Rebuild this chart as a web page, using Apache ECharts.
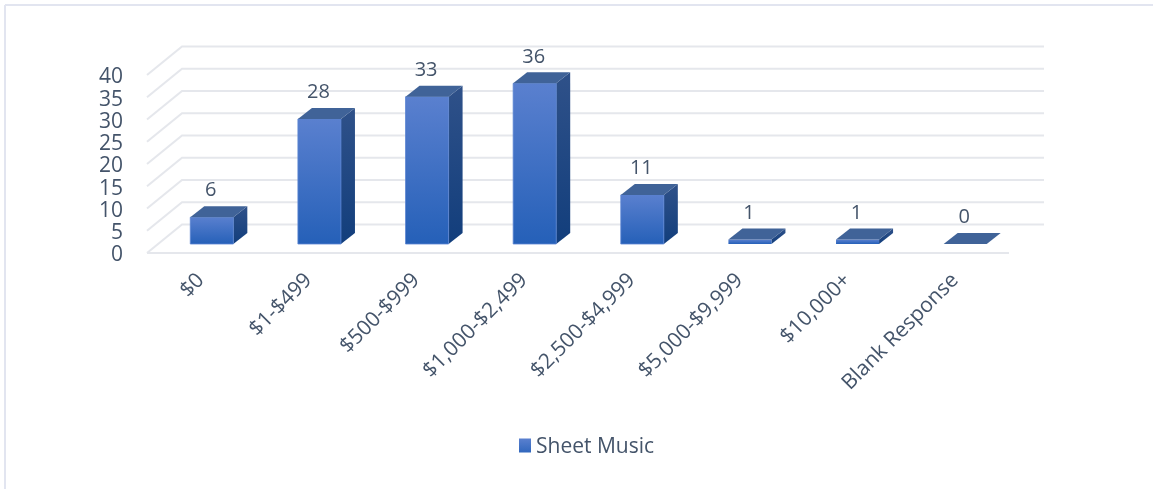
<!DOCTYPE html>
<html>
<head>
<meta charset="utf-8">
<style>html,body{margin:0;padding:0;background:#fff}#c{width:1153px;height:489px;filter:blur(0.4px)}</style>
<script src="https://cdn.jsdelivr.net/npm/echarts@6/dist/echarts.min.js"></script>
</head>
<body>
<div id="c"></div>
<script>
const categories = ["$0","$1-$499","$500-$999","$1,000-$2,499","$2,500-$4,999","$5,000-$9,999","$10,000+","Blank Response"];
const seriesName = "Sheet Music";
const values = [6,28,33,36,11,1,1,0];
const yTicks = [0,5,10,15,20,25,30,35,40];

const TEXT = '#44546a', GRIDC = '#e5e7ec', FONT = '"Open Sans", sans-serif';
const DEPTH_X = 14, DEPTH_Y = -11, BACK_X = 35, BACK_Y = -28.5;
const grad = (a, b) => new echarts.graphic.LinearGradient(0, 0, 0, 1, [{offset:0,color:a},{offset:1,color:b}]);

const chart = echarts.init(document.getElementById('c'), null, {renderer:'canvas'});

function renderBar(params, api) {
  const cat = api.value(0), val = api.value(1);
  const base = api.coord([cat, 0]);
  const top = api.coord([cat, val]);
  const w = api.size([1, 0])[0] * 0.4;
  const L = base[0] - w / 2, R = base[0] + w / 2, B = base[1], T = top[1];
  const kids = [];
  if (val > 0) {
    kids.push({type:'polygon', shape:{points:[[R,T],[R+DEPTH_X,T+DEPTH_Y],[R+DEPTH_X,B+DEPTH_Y],[R,B]]},
      style:{fill:grad('#2f5189','#123e7c')}});
    kids.push({type:'rect', shape:{x:L,y:T,width:w,height:B-T},
      style:{fill:grad('#5a80cf','#2560b8'), stroke:'#5b84d2', lineWidth:val>1?0.8:0}});
  }
  kids.push({type:'polygon', shape:{points:[[L,T],[L+DEPTH_X,T+DEPTH_Y],[R+DEPTH_X,T+DEPTH_Y],[R,T]]},
    style:{fill:'#406398'}});
  kids.push({type:'text', style:{text:String(val), x:base[0]-1, y:T-26.5, align:'center', verticalAlign:'middle',
    fill:TEXT, font:'20px ' + FONT}});
  return {type:'group', children:kids};
}

function renderGrid(params, api) {
  const tick = api.value(1);
  const cs = params.coordSys;
  const p = [cs.x, api.coord([0, tick])[1]];
  const sty = {stroke:GRIDC, lineWidth:2, fill:null};
  const kids = [{type:'polyline', shape:{points:[[p[0],p[1]],[p[0]+BACK_X,p[1]+BACK_Y],[cs.x+cs.width+BACK_X,p[1]+BACK_Y]]}, style:sty}];
  if (tick === 0) kids.push({type:'line', shape:{x1:p[0],y1:p[1],x2:cs.x+cs.width,y2:p[1]}, style:sty});
  return {type:'group', children:kids};
}

chart.setOption({
  animation:false,
  backgroundColor:'#fff',
  grid:[
    {left:158, width:861, top:65.5, height:178.5},
    {left:147, width:862, top:75, height:178},
    {left:147, width:862, top:77.5, height:178}
  ],
  xAxis:[
    {gridIndex:0, type:'category', data:categories, show:false},
    {gridIndex:1, type:'category', data:categories, axisLine:{show:false}, axisTick:{show:false},
      axisLabel:{rotate:45, interval:0, margin:24, color:TEXT, fontSize:21, fontFamily:FONT}},
    {gridIndex:2, type:'category', data:categories, show:false}
  ],
  yAxis:[
    {gridIndex:0, type:'value', min:0, max:40, interval:5, show:false},
    {gridIndex:1, type:'value', min:0, max:40, interval:5, show:false},
    {gridIndex:2, type:'value', min:0, max:40, interval:5, axisLine:{show:false}, axisTick:{show:false}, splitLine:{show:false},
      axisLabel:{margin:24, color:TEXT, fontSize:21, fontFamily:FONT}}
  ],
  legend:{left:514, top:432, icon:'path://M0 0H12V14H0ZM0 18L0 18Z', itemWidth:12, itemHeight:18, itemGap:6,
    data:[{name:seriesName, itemStyle:{color:grad('#5a80cf','#2560b8')}}],
    textStyle:{color:TEXT, fontSize:21, fontFamily:FONT}},
  graphic:[
    {type:'line', silent:true, shape:{x1:5,y1:5,x2:1153,y2:5}, style:{stroke:'#e2e5f0', lineWidth:2}},
    {type:'line', silent:true, shape:{x1:5,y1:5,x2:5,y2:489}, style:{stroke:'#e2e5f0', lineWidth:2}}
  ],
  series:[
    {type:'custom', name:'grid', xAxisIndex:1, yAxisIndex:1, silent:true, z:1,
      data:yTicks.map(t => [0,t]), encode:{x:0,y:1}, renderItem:renderGrid},
    {type:'custom', name:seriesName, xAxisIndex:0, yAxisIndex:0, z:3,
      itemStyle:{color:'#2f6cc4'},
      data:values.map((v,i) => [i,v]), encode:{x:0,y:1}, renderItem:renderBar}
  ]
});
</script>
</body>
</html>
